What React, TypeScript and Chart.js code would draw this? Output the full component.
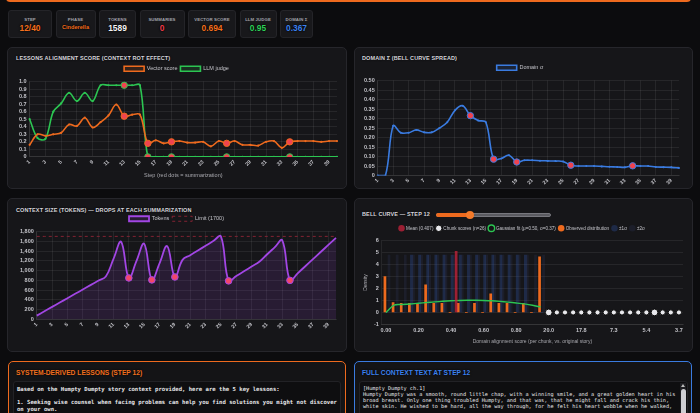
import React, { useEffect, useRef } from "react";
import { Chart, registerables } from "chart.js";
Chart.register(...registerables);

// ---------------- DATA ----------------
const stepLabels = ["1","2","3","4","5","6","7","8","9","10","11","12","13","14","15","16","17","18","19","20","21","22","23","24","25","26","27","28","29","30","31","32","33","34","35","36","37","38","39","40"];
const summarizationSteps = [13, 16, 19, 26, 34];

const vectorScore = [0.16,0.30,0.28,0.30,0.32,0.43,0.41,0.52,0.39,0.46,0.55,0.694,0.54,0.56,0.56,0.18,0.22,0.18,0.20,0.21,0.19,0.19,0.20,0.14,0.21,0.18,0.21,0.16,0.16,0.15,0.20,0.21,0.12,0.20,0.21,0.21,0.21,0.20,0.21,0.21];
const llmJudge = [0.50,0.25,0.24,0.60,0.71,0.85,0.74,0.85,0.74,0.95,0.95,0.95,0.95,0.95,0.95,0,0,0,0,0,0,0,0,0,0,0,0,0,0,0,0,0,0,0,0,0,0,0,0,0];
const domainSigma = [0,0,0.262,0.225,0.225,0.24,0.227,0.227,0.25,0.28,0.343,0.367,0.315,0.29,0.28,0.086,0.09,0.107,0.071,0.08,0.08,0.078,0.077,0.076,0.074,0.054,0.05,0.05,0.05,0.048,0.046,0.045,0.043,0.051,0.05,0.05,0.045,0.044,0.043,0.04];
const tokenCounts = [80,169,258,347,436,525,614,703,792,880,1240,1589,850,1200,1550,810,1150,1500,870,1220,1316,1412,1508,1604,1700,790,888,986,1084,1180,1330,1475,1620,800,945,1090,1235,1380,1525,1670];
const tokenLimit = 1700;

const bellLabels = ["0.00","0.05","0.10","0.15","0.20","0.25","0.30","0.35","0.40","0.45","0.50","0.55","0.60","0.65","0.70","0.75","0.80","0.85","0.90","0.95","20.0","","","","17.8","","","","7.3","","","","5.4","","","","3.7"];
const observedDensity = [3.0,0.82,0.77,0.77,0.77,2.3,0.77,0.77,0,0.77,0,0.77,0,1.55,0.77,0.77,0,0.77,0,4.65];
const gaussianFit = [0,0.62,0.66,0.71,0.77,0.83,0.88,0.93,0.97,1.0,1.02,1.02,1.0,0.97,0.92,0.86,0.79,0.71,0.6,0.45];
const meanDensity = [null,null,null,null,null,null,null,null,null,5.1];
const sigma1Band = [0,0,0,4.8,4.8,4.8,4.8,4.8,4.8,4.8,4.8,4.8,4.8,4.8,4.8,4.8,4.8,4.8,0,0];
const sigma2Band = [4.8,4.8,4.8,4.8,4.8,4.8,4.8,4.8,4.8,4.8,4.8,4.8,4.8,4.8,4.8,4.8,4.8,4.8,4.8,4.8];
const chunkScores = [null,null,null,null,null,null,null,null,null,null,null,null,null,null,null,null,null,null,null,null,0,0,0,0,0,0,0,0,0,0,0,0,0,0,0,0,0];
const chunkOverlap = [0,0,0,0,0,0,0,0,0,0,0,0,0,0,0,0,0,0,0,0,3,1,1,1,1,1,1,1,1,1,1,1,1,2,1,1,1];

const stats = [
  { label: "STEP", value: "12/40", color: "#f5701f" },
  { label: "PHASE", value: "Cinderella", color: "#f5701f" },
  { label: "TOKENS", value: "1589", color: "#f4f4f5" },
  { label: "SUMMARIES", value: "0", color: "#ef3b4a" },
  { label: "VECTOR SCORE", value: "0.694", color: "#f5701f" },
  { label: "LLM JUDGE", value: "0.95", color: "#2fd05a" },
  { label: "DOMAIN \u03a3", value: "0.367", color: "#3d82f0" },
];
const lessonsText = "Based on the Humpty Dumpty story context provided, here are the 5 key lessons:\n\n1. Seeking wise counsel when facing problems can help you find solutions you might not discover on your own.";
const contextText = "[Humpty Dumpty ch.1]\nHumpty Dumpty was a smooth, round little chap, with a winning smile, and a great golden heart in his broad breast. Only one thing troubled Humpty, and that was, that he might fall and crack his thin, white skin. He wished to be hard, all the way through, for he felt his heart wobble when he walked,";

// ---------------- STYLE ----------------
const ORANGE = "#ee6a1e";
const GREEN = "#2cc552";
const BLUE = "#3a7be0";
const PURPLE = "#a246e4";
const RED = "#f0434f";
const TICK = "#c4c4ca";
const GRID = "rgba(255,255,255,0.07)";
const FONT = "'Liberation Sans', Arial, sans-serif";
Chart.defaults.font.family = FONT;
Chart.defaults.font.size = 5.5;
Chart.defaults.color = TICK;

const cardWidths = [44, 40, 37, 45, 48, 37, 33];
const isSum = (i: number) => summarizationSteps.includes(i + 1);

const tickFont = { size: 5.5, weight: "bold" as const };

function stepXAxis(title?: string) {
  return {
    grid: { color: GRID, drawTicks: false },
    border: { color: GRID },
    ticks: { color: TICK, font: { size: 5.2, weight: "bold" as const }, autoSkip: false, maxRotation: 45, minRotation: 45, padding: 2 },
    afterBuildTicks: (axis: any) => { axis.ticks = axis.ticks.filter((_: any, i: number) => i % 2 === 0); },
    title: title ? { display: true, text: title, color: "#a8a8ae", font: { size: 5.5 }, padding: { top: 3, bottom: 0 } } : { display: false },
  };
}

function yAxis(min: number, max: number, step: number, fmt?: (v: number) => string) {
  const ticks: any = { stepSize: step, color: TICK, font: tickFont, padding: 3, autoSkip: false };
  if (fmt) ticks.callback = fmt;
  return { min, max, grid: { color: GRID, drawTicks: false }, border: { color: GRID }, ticks };
}

function legendCfg() {
  return { labels: { boxWidth: 20, boxHeight: 5, color: TICK, font: { size: 5.5 }, padding: 3 } };
}

function sumLineDataset(label: string, data: number[], color: string, fillColor: string, smallR: number) {
  return {
    label, data, borderColor: color, backgroundColor: fillColor, borderWidth: 1.6, tension: 0.35,
    pointRadius: (c: any) => (isSum(c.dataIndex) ? 3.2 : smallR),
    pointBackgroundColor: (c: any) => (isSum(c.dataIndex) ? RED : color),
    pointBorderColor: color,
    pointBorderWidth: (c: any) => (isSum(c.dataIndex) ? 1 : 0),
  };
}

const alignmentConfig: any = {
  type: "line",
  data: { labels: stepLabels, datasets: [
    sumLineDataset("Vector score", vectorScore, ORANGE, "rgba(238,106,30,0.15)", 1.1),
    sumLineDataset("LLM judge", llmJudge, GREEN, "rgba(44,197,82,0.15)", 1.1),
  ] },
  options: {
    animation: false, responsive: true, maintainAspectRatio: false,
    layout: { padding: { left: 6, right: 5, top: 1, bottom: 0 } },
    plugins: { legend: legendCfg(), tooltip: { enabled: false } },
    scales: {
      x: stepXAxis("Step (red dots = summarization)"),
      y: yAxis(0, 1, 0.1, (v: number) => (Math.abs(v) < 1e-9 ? "0" : v.toFixed(1))),
    },
  },
};

const domainConfig: any = {
  type: "line",
  data: { labels: stepLabels, datasets: [
    sumLineDataset("Domain \u03c3", domainSigma, BLUE, "rgba(58,123,224,0.15)", 1.0),
  ] },
  options: {
    animation: false, responsive: true, maintainAspectRatio: false,
    layout: { padding: { left: 4, right: 10, top: 1, bottom: 0 } },
    plugins: { legend: legendCfg(), tooltip: { enabled: false } },
    scales: {
      x: stepXAxis(),
      y: yAxis(0, 0.5, 0.05, (v: number) => (Math.abs(v) < 1e-9 ? "0" : v.toFixed(2))),
    },
  },
};

const tokensConfig: any = {
  type: "line",
  data: { labels: stepLabels, datasets: [
    {
      label: "Tokens", data: tokenCounts, borderColor: PURPLE, backgroundColor: "rgba(162,70,228,0.13)", fill: "origin",
      borderWidth: 1.8, tension: 0.4,
      pointRadius: (c: any) => (isSum(c.dataIndex) ? 3.3 : 0),
      pointBackgroundColor: "#f2476a", pointBorderColor: PURPLE, pointBorderWidth: 1,
    },
    {
      label: "Limit (" + tokenLimit + ")", data: stepLabels.map(() => tokenLimit), borderColor: "rgba(170,40,60,0.75)",
      backgroundColor: "rgba(0,0,0,0)", borderWidth: 1, borderDash: [3, 3], pointRadius: 0, fill: false,
    },
  ] },
  options: {
    animation: false, responsive: true, maintainAspectRatio: false,
    layout: { padding: { left: 7, right: 6, top: 0, bottom: 0 } },
    plugins: { legend: legendCfg(), tooltip: { enabled: false } },
    scales: {
      x: stepXAxis(),
      y: yAxis(0, 1800, 200),
    },
  },
};

const bellConfig: any = {
  type: "bar",
  data: { labels: bellLabels, datasets: [
    { type: "bar", label: "Mean (0.407)", data: meanDensity, backgroundColor: "rgba(200,35,60,0.75)", borderColor: "rgba(200,35,60,0.75)", borderWidth: 0 },
    { type: "line", label: "Chunk scores (n=26)", data: chunkScores, showLine: false, backgroundColor: "#b9b9bf", borderColor: "#111",
      pointBackgroundColor: "#e8e8ec", pointBorderColor: "#0a0a0a", pointBorderWidth: 1,
      pointRadius: (c: any) => (chunkOverlap[c.dataIndex] > 1 ? 3.4 : 2.6) },
    { type: "line", label: "Gaussian fit (\u03bc=0.50, \u03c3=0.37)", data: gaussianFit, borderColor: GREEN, backgroundColor: "#141416",
      borderWidth: 1.4, pointRadius: 0, tension: 0.3 },
    { type: "bar", label: "Observed distribution", data: observedDensity, backgroundColor: ORANGE, borderColor: "#a2420f", borderWidth: 0 },
    { type: "bar", label: "\u00b11\u03c3", data: sigma1Band, backgroundColor: "rgba(50,90,180,0.3)", borderWidth: 0 },
    { type: "bar", label: "\u00b12\u03c3", data: sigma2Band, backgroundColor: "rgba(70,80,140,0.15)", borderWidth: 0 },
  ] },
  options: {
    animation: false, responsive: true, maintainAspectRatio: false,
    categoryPercentage: 1, barPercentage: 1,
    layout: { padding: { left: 4, right: 6, top: 0, bottom: 0 } },
    plugins: {
      legend: { labels: { usePointStyle: true, pointStyle: "circle", boxWidth: 6, boxHeight: 6, color: TICK, font: { size: 4.6 }, padding: 3 } },
      tooltip: { enabled: false },
    },
    scales: {
      x: {
        grid: { display: false, drawTicks: false }, border: { color: GRID },
        ticks: { color: TICK, font: tickFont, autoSkip: false, maxRotation: 0, minRotation: 0, padding: 3 },
        afterBuildTicks: (axis: any) => { axis.ticks = axis.ticks.filter((_: any, i: number) => i % 4 === 0); },
        title: { display: true, text: "Domain alignment score (per chunk, vs. original story)", color: "#a8a8ae", font: { size: 5 }, padding: { top: 2, bottom: 0 } },
      },
      y: { ...yAxis(-1, 6, 1),
        title: { display: true, text: "Density", color: "#b0b0b6", font: { size: 5 }, padding: 2 } },
    },
  },
};

// ---------------- COMPONENTS ----------------
function ChartBox({ config, style }: { config: any; style: React.CSSProperties }) {
  const ref = useRef<HTMLCanvasElement>(null);
  useEffect(() => {
    const chart = new Chart(ref.current as HTMLCanvasElement, config);
    return () => chart.destroy();
  }, [config]);
  return (
    <div style={{ position: "absolute", ...style }}>
      <canvas ref={ref} />
    </div>
  );
}

const panelStyle: React.CSSProperties = {
  position: "absolute", background: "#161619", border: "1px solid #26262b", borderRadius: 5, boxSizing: "border-box",
};
const titleStyle: React.CSSProperties = {
  position: "absolute", fontSize: 5.5, fontWeight: 700, color: "#d6d6dc", letterSpacing: 0.12, whiteSpace: "nowrap",
  textShadow: "0 0 2px #000",
};

export default function App() {
  useEffect(() => {
    document.body.style.margin = "0";
    document.body.style.background = "#0c0c0e";
  }, []);
  let x = 8;
  const cardLefts = cardWidths.map((w) => { const l = x; x += w + 3.5; return l; });
  return (
    <div style={{ position: "fixed", left: 0, top: 0, width: 700, height: 413, overflow: "hidden", background: "#0c0c0e", fontFamily: FONT }}>
      {/* header bottom border */}
      <div style={{ position: "absolute", left: 6, top: -20, width: 685, height: 21.5, borderBottom: "2px solid #ee6a1e", borderLeft: "2px solid #ee6a1e", borderRight: "2px solid #ee6a1e", borderRadius: 4, boxSizing: "border-box", background: "#111113" }} />

      {/* stat cards */}
      {stats.map((s, i) => (
        <div key={s.label} style={{ position: "absolute", left: cardLefts[i], top: 10, width: cardWidths[i], height: 28, background: "#18181b", border: "1px solid #242428", borderRadius: 3, boxSizing: "border-box", textAlign: "center" }}>
          <div style={{ position: "absolute", left: 0, right: 0, top: 5.5, fontSize: 4.3, fontWeight: 700, color: "#a2a2aa", letterSpacing: 0.1, whiteSpace: "nowrap" }}>{s.label}</div>
          <div style={{ position: "absolute", left: 0, right: 0, top: i === 1 ? 12.5 : 12, fontSize: i === 1 ? 5.6 : 8.4, fontWeight: 700, color: s.color, whiteSpace: "nowrap", textShadow: "0 0 2px #000, 0 0 1px #000" }}>{s.value}</div>
        </div>
      ))}

      {/* panel 1 */}
      <div style={{ ...panelStyle, left: 7, top: 47, width: 340, height: 142 }} />
      <div style={{ ...titleStyle, left: 16, top: 55 }}>LESSONS ALIGNMENT SCORE (CONTEXT ROT EFFECT)</div>
      <ChartBox config={alignmentConfig} style={{ left: 10, top: 62, width: 332, height: 117 }} />

      {/* panel 2 */}
      <div style={{ ...panelStyle, left: 354, top: 47, width: 339, height: 142 }} />
      <div style={{ ...titleStyle, left: 362, top: 55 }}>DOMAIN {"\u03a3"} (BELL CURVE SPREAD)</div>
      <ChartBox config={domainConfig} style={{ left: 357, top: 61, width: 332, height: 127 }} />

      {/* panel 3 */}
      <div style={{ ...panelStyle, left: 7, top: 198, width: 340, height: 154 }} />
      <div style={{ ...titleStyle, left: 16, top: 207 }}>CONTEXT SIZE (TOKENS) {"\u2014"} DROPS AT EACH SUMMARIZATION</div>
      <ChartBox config={tokensConfig} style={{ left: 10, top: 213, width: 332, height: 119 }} />

      {/* panel 4 */}
      <div style={{ ...panelStyle, left: 354, top: 198, width: 339, height: 154 }} />
      <div style={{ ...titleStyle, left: 362, top: 211 }}>BELL CURVE {"\u2014"} STEP 12</div>
      <div style={{ position: "absolute", left: 436, top: 212.5, width: 115, height: 4, borderRadius: 2, background: "#5a5a60", border: "0.5px solid #77777d", boxSizing: "border-box" }} />
      <div style={{ position: "absolute", left: 436, top: 212.5, width: 34, height: 4, borderRadius: 2, background: ORANGE }} />
      <div style={{ position: "absolute", left: 466, top: 210.5, width: 8, height: 8, borderRadius: 4, background: "#f47a2a" }} />
      <ChartBox config={bellConfig} style={{ left: 357, top: 223, width: 332, height: 122 }} />

      {/* lessons box */}
      <div style={{ position: "absolute", left: 8, top: 361, width: 338, height: 80, border: "1.5px solid #ee6a1e", borderRadius: 5, background: "#141416", boxSizing: "border-box" }} />
      <div style={{ position: "absolute", left: 16, top: 369, fontSize: 6.7, fontWeight: 700, color: "#f2701f", whiteSpace: "nowrap", textShadow: "0 0 2px #000" }}>SYSTEM-DERIVED LESSONS (STEP 12)</div>
      <div style={{ position: "absolute", left: 13, top: 381, width: 328, height: 60, background: "#0e0e10", border: "1px solid #222226", borderRadius: 3, boxSizing: "border-box", padding: "4px 3px" }}>
        <div style={{ fontFamily: "'DejaVu Sans Mono', monospace", fontSize: 5.6, lineHeight: "6.7px", color: "#e8e8ea", whiteSpace: "pre-wrap", fontWeight: 700 }}>{lessonsText}</div>
      </div>

      {/* context box */}
      <div style={{ position: "absolute", left: 354, top: 361, width: 338, height: 80, border: "1.5px solid #3a7be0", borderRadius: 5, background: "#141416", boxSizing: "border-box" }} />
      <div style={{ position: "absolute", left: 362, top: 369, fontSize: 6.7, fontWeight: 700, color: "#3d82f0", whiteSpace: "nowrap", textShadow: "0 0 2px #000" }}>FULL CONTEXT TEXT AT STEP 12</div>
      <div style={{ position: "absolute", left: 359, top: 381, width: 329, height: 60, background: "#0e0e10", border: "1px solid #222226", borderRadius: 3, boxSizing: "border-box", padding: "3px 3px" }}>
        <div style={{ width: 318, fontFamily: "'DejaVu Sans Mono', monospace", fontSize: 5.2, lineHeight: "6.1px", color: "#e8e8ea", whiteSpace: "pre-wrap" }}>{contextText}</div>
      </div>
      {/* scrollbar */}
      <div style={{ position: "absolute", left: 680, top: 383, width: 6, height: 40, background: "#1e1e22" }} />
      <div style={{ position: "absolute", left: 681, top: 384, width: 0, height: 0, borderLeft: "2px solid transparent", borderRight: "2px solid transparent", borderBottom: "3px solid #bbb" }} />
      <div style={{ position: "absolute", left: 680.5, top: 389, width: 5, height: 30, borderRadius: 2.5, background: "#cfcfd3" }} />
    </div>
  );
}
